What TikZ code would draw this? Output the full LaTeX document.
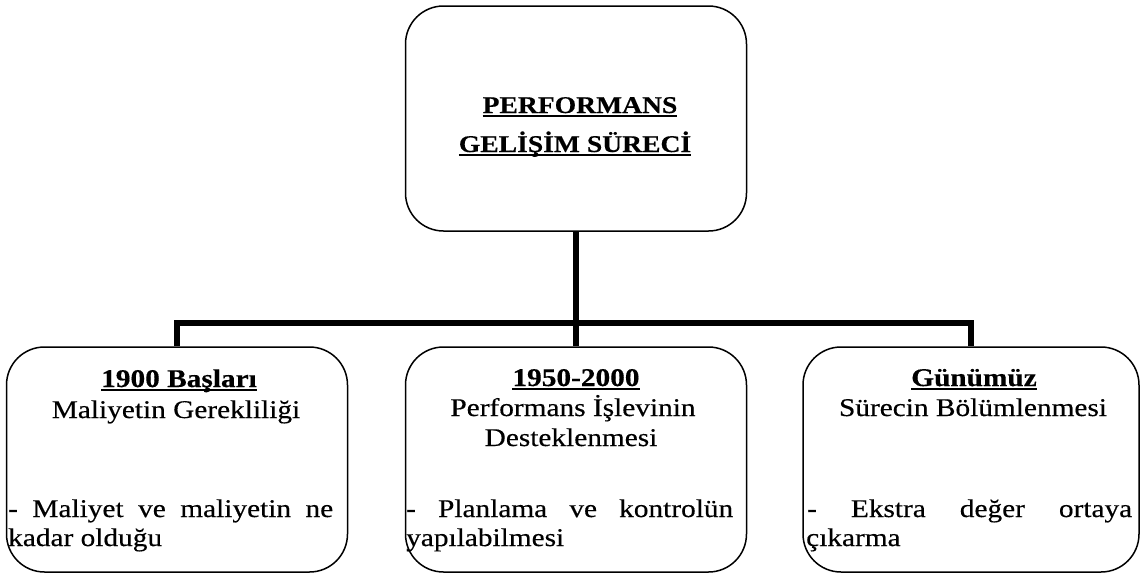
\documentclass[tikz,border=0pt]{standalone}
\usepackage{fontspec}
\setmainfont{Liberation Serif}[FakeStretch=1.15, FakeBold=0.4]
\newcommand\myul[1]{\begingroup\setbox0=\hbox{#1}\rlap{\rule[-4pt]{\wd0}{1.8pt}}\box0\endgroup}
\begin{document}
\begin{tikzpicture}[x=1pt,y=-1pt,
  box/.style={draw=black, line width=1.5pt, rounded corners=38pt, minimum width=341pt, minimum height=225pt, inner sep=0pt},
  conn/.style={draw=black, line width=6pt, line join=miter},
  txt/.style={inner sep=0pt, font=\fontsize{25.5}{30}\selectfont},
  head/.style={inner sep=0pt, font=\fontsize{25.5}{30}\selectfont\bfseries},
  tophead/.style={inner sep=0pt, font=\fontsize{24}{30}\selectfont\bfseries},
]
\useasboundingbox (0,0) rectangle (1141,574);
% boxes
\node[box] (top) at (576,118.5) {};
\node[box] (b1) at (177,459.5) {};
\node[box] (b2) at (576,459.5) {};
\node[box, minimum width=336pt] (b3) at (971,459.5) {};
% connectors
\coordinate (hub) at (576,323);
\draw[conn] (top.south) -- (b2.north);
\draw[conn] (b1.north) -- (b1.north |- hub) -- (b3.north |- hub) -- (b3.north);
% top text
\node[tophead, anchor=base] (h0a) at (580,113) {\myul{PERFORMANS}};
\node[tophead, anchor=base] (h0b) at (575,152) {\myul{GELİŞİM SÜRECİ}};
% box 1
\node[head, anchor=base] (h1) at (179,387) {\myul{1900 Başları}};
\node[txt, anchor=base] (s1) at (176,418) {Maliyetin Gerekliliği};
\node[txt, anchor=base west] (d1a) at (8,517) {\makebox[325pt][l]{-\hfill Maliyet\hfill ve\hfill maliyetin\hfill ne}};
\node[txt, anchor=base west] (d1b) at (8,546) {kadar olduğu};
% box 2
\node[head, anchor=base] (h2) at (576,386) {\myul{1950-2000}};
\node[txt, anchor=base] (s2a) at (573,416) {Performans İşlevinin};
\node[txt, anchor=base] (s2b) at (571,446) {Desteklenmesi};
\node[txt, anchor=base west] (d2a) at (406,517) {\makebox[327pt][l]{-\hfill Planlama\hfill ve\hfill kontrolün}};
\node[txt, anchor=base west] (d2b) at (406,546) {yapılabilmesi};
% box 3
\node[head, anchor=base] (h3) at (974,386) {\myul{Günümüz}};
\node[txt, anchor=base] (s3) at (973,416) {Sürecin Bölümlenmesi};
\node[txt, anchor=base west] (d3a) at (807,517) {\makebox[325pt][l]{-\hfill Ekstra\hfill değer\hfill ortaya}};
\node[txt, anchor=base west] (d3b) at (806,546) {çıkarma};
\end{tikzpicture}
\end{document}
